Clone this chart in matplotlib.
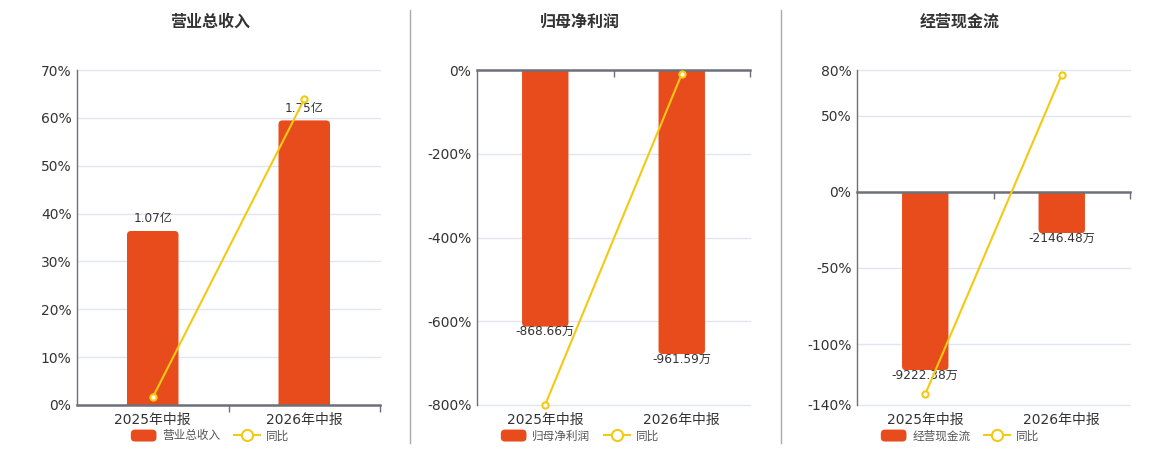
import numpy as np
import matplotlib
matplotlib.use("Agg")
import matplotlib.pyplot as plt
from matplotlib.lines import Line2D
from matplotlib.patches import Patch, FancyBboxPatch, Rectangle
from matplotlib.legend_handler import HandlerPatch

plt.rcParams["font.family"] = ["DejaVu Sans", "Noto Sans CJK SC"]
plt.rcParams["axes.unicode_minus"] = False

BAR   = "#E84C1D"
LINE  = "#F3C911"
GRID  = "#E0E6F1"
AXIS  = "#6E7079"
TEXT  = "#333333"

# ── data ───────────────────────────────────────────────
categories = ["2025年中报", "2026年中报"]

revenue     = [1.07, 1.75]          # 亿
revenue_yoy = [1.6, 63.9]           # %
profit      = [-868.66, -961.59]    # 万
profit_yoy  = [-799.0, -9.6]
cash        = [-9222.38, -2146.48]  # 万
cash_yoy    = [-132.9, 77.0]

panels = [
    dict(title="营业总收入", bars=revenue, yoy=revenue_yoy, unit="亿",
         pct_lim=(0, 70), pct_ticks=[0, 10, 20, 30, 40, 50, 60, 70],
         bar_lim=(0, 2.06), rect=(77, 380), center=210),
    dict(title="归母净利润", bars=profit, yoy=profit_yoy, unit="万",
         pct_lim=(-800, 0), pct_ticks=[-800, -600, -400, -200, 0],
         bar_lim=(-1134, 0), rect=(477, 750), center=580),
    dict(title="经营现金流", bars=cash, yoy=cash_yoy, unit="万",
         pct_lim=(-140, 80), pct_ticks=[-140, -100, -50, 0, 50, 80],
         bar_lim=(-11020, 6300), rect=(857, 1130), center=960),
]


class RoundPatchHandler(HandlerPatch):
    def create_artists(self, legend, orig_handle, xdescent, ydescent,
                       width, height, fontsize, trans):
        p = FancyBboxPatch((-xdescent, -ydescent), width, height,
                           boxstyle="round,pad=0,rounding_size=3",
                           facecolor=orig_handle.get_facecolor(),
                           edgecolor="none", transform=trans)
        return [p]


W, H = 1160, 450
fig = plt.figure(figsize=(W / 100, H / 100), dpi=100)
fig.patch.set_facecolor("white")

x = np.arange(len(categories))
xlim = (-0.5, len(categories) - 0.5)
top_px, bot_px = 70, 405
bar_w = 0.34
radius_px = 4

for i, p in enumerate(panels):
    l, r = p["rect"]
    rect = [l / W, 1 - bot_px / H, (r - l) / W, (bot_px - top_px) / H]

    # ── grid / percent axis (bottom layer) ──
    ax = fig.add_axes(rect, label=f"grid{i}")
    ax.set_xlim(*xlim)
    ax.set_ylim(*p["pct_lim"])
    ax.set_yticks(p["pct_ticks"])
    ax.set_yticklabels([f"{t}%" for t in p["pct_ticks"]])
    ax.set_xticks(x)
    ax.set_xticklabels(categories)
    ax.tick_params(axis="x", length=0, pad=6, labelsize=10, labelcolor=TEXT)
    ax.tick_params(axis="y", length=0, pad=4, labelsize=10, labelcolor=TEXT)
    ax.grid(axis="y", color=GRID, linewidth=1)
    for gl in ax.get_ygridlines():
        gl.set_clip_on(False)
    for s in ["top", "right", "bottom"]:
        ax.spines[s].set_visible(False)
    ax.spines["left"].set_color(AXIS)
    ax.spines["left"].set_linewidth(1)

    # ── bars (hidden scale) ──
    axb = fig.add_axes(rect, label=f"bar{i}")
    axb.set_xlim(*xlim)
    axb.set_ylim(*p["bar_lim"])
    axb.axis("off")
    xupp = (xlim[1] - xlim[0]) / (r - l)
    yupp = (p["bar_lim"][1] - p["bar_lim"][0]) / (bot_px - top_px)
    ext = 3 * radius_px * yupp
    # rounded bar, extended past zero and clipped there -> square base
    for xi, v in zip(x, p["bars"]):
        y0 = -ext if v >= 0 else v
        patch = FancyBboxPatch(
            (xi - bar_w / 2, y0), bar_w, abs(v) + ext,
            boxstyle=f"round,pad=0,rounding_size={radius_px * xupp}",
            mutation_aspect=yupp / xupp, facecolor=BAR, edgecolor="none")
        axb.add_patch(patch)
        clip = Rectangle((xi - bar_w, min(0, v)), 2 * bar_w, abs(v),
                         transform=axb.transData)
        patch.set_clip_path(clip)
        if v >= 0:
            axb.annotate(f"{v:.2f}{p['unit']}", (xi, v), xytext=(0, 4),
                         textcoords="offset points", ha="center", va="bottom",
                         fontsize=8.7, color=TEXT)
        else:
            axb.annotate(f"{v:.2f}{p['unit']}", (xi, v), xytext=(0, 1),
                         textcoords="offset points", ha="center", va="top",
                         fontsize=8.7, color=TEXT)

    # ── yoy line + zero axis (top layer) ──
    axl = fig.add_axes(rect, label=f"line{i}")
    axl.patch.set_visible(False)
    axl.set_xlim(*xlim)
    axl.set_ylim(*p["pct_lim"])
    axl.plot(x, p["yoy"], color=LINE, linewidth=1.5, marker="o", markersize=4.5,
             markerfacecolor="white", markeredgecolor=LINE, markeredgewidth=1.5,
             zorder=5, clip_on=False)
    axl.set_yticks([])
    axl.set_xticks([0.5, 1.5])
    axl.set_xticklabels([])
    axl.tick_params(axis="x", direction="out", length=5, color=AXIS, width=1)
    for s in ["top", "right", "left"]:
        axl.spines[s].set_visible(False)
    axl.spines["bottom"].set_position(("data", 0))
    axl.spines["bottom"].set_color(AXIS)
    axl.spines["bottom"].set_linewidth(1.8)

    # title
    fig.text(p["center"] / W, 1 - 22 / H, p["title"], ha="center", va="center",
             fontsize=11.5, fontweight="bold", color=TEXT)

    # legend
    handles = [
        Patch(facecolor=BAR, edgecolor=BAR, label=p["title"]),
        Line2D([0], [0], color=LINE, linewidth=1.5, marker="o", markersize=8,
               markerfacecolor="white", markeredgecolor=LINE,
               markeredgewidth=1.5, label="同比"),
    ]
    fig.legend(handles=handles, loc="center", ncol=2, frameon=False,
               bbox_to_anchor=(p["center"] / W, 1 - 436 / H),
               fontsize=8.4, labelcolor="#555555", handlelength=2.2,
               handleheight=1.2, columnspacing=1.2, handletextpad=0.5,
               handler_map={Patch: RoundPatchHandler()})

# separators between panels
for sx in [410, 781]:
    fig.add_artist(Line2D([sx / W, sx / W], [1 - 443 / H, 1 - 10 / H],
                          color="#AAAAAA", linewidth=1))

fig.savefig("out.png", dpi=100, facecolor="white")
